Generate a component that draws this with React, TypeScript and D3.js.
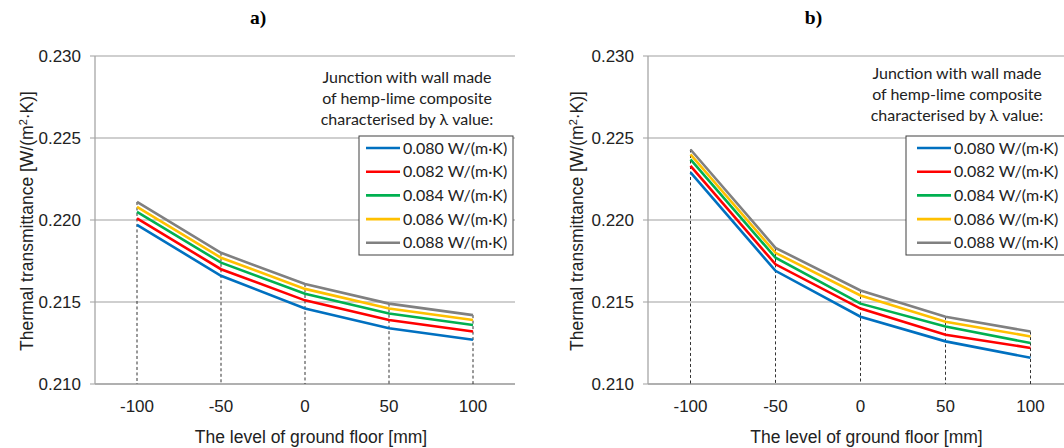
import * as d3 from 'd3'

// ground floor level [mm]
const levels = [-100, -50, 0, 50, 100]
const yTicks = [0.21, 0.215, 0.22, 0.225, 0.23]
const lambdas = ['0.080', '0.082', '0.084', '0.086', '0.088']
const colors = ['#0070C0', '#FF0000', '#00B050', '#FFC000', '#808080']

// panel a) thermal transmittance [W/(m2K)]
const a080 = [0.2197, 0.2166, 0.2146, 0.2134, 0.2127]
const a082 = [0.2201, 0.2170, 0.2151, 0.2139, 0.2132]
const a084 = [0.2205, 0.2174, 0.2155, 0.2143, 0.2136]
const a086 = [0.2208, 0.2177, 0.2158, 0.2146, 0.2139]
const a088 = [0.2211, 0.2180, 0.2161, 0.2149, 0.2142]

// panel b)
const b080 = [0.2229, 0.2169, 0.2141, 0.2126, 0.2116]
const b082 = [0.2233, 0.2173, 0.2146, 0.2130, 0.2122]
const b084 = [0.2237, 0.2177, 0.2149, 0.2135, 0.2125]
const b086 = [0.2240, 0.2180, 0.2154, 0.2138, 0.2129]
const b088 = [0.2243, 0.2183, 0.2157, 0.2141, 0.2132]

const titleLines = ['Junction with wall made', 'of hemp-lime composite', 'characterised by λ value:']

const axisFont = '"Liberation Sans", Arial, sans-serif'
const legendFont = 'Lato, "Open Sans", sans-serif'

const top = 56
const bottom = 384

function Panel({ label, series, x0, x1, yLabelX, titleCx, titleY, legX, legW, lineX }: any) {
    const x = d3.scalePoint<number>().domain(levels).range([x0, x1]).padding(0.5)
    const y = d3.scaleLinear().domain([0.21, 0.23]).range([bottom, top])
    const line = d3.line<number>().x((_, i) => x(levels[i])!).y(d => y(d))
    const cx = (x0 + x1) / 2

    return (
        <g>
            <text x={cx - 47} y={24} fontFamily='"Liberation Serif", serif' fontWeight="bold" fontSize={19.5}
                textAnchor="middle" fill="#000">{label}</text>

            {/* grid */}
            {yTicks.map(t => (
                <g key={t}>
                    <line x1={x0 - 5} x2={x1} y1={y(t)} y2={y(t)} stroke="#bfbfbf" strokeWidth={1.3} />
                    <text x={x0 - 14} y={y(t) + 6} textAnchor="end" fontFamily={axisFont} fontSize={17}
                        fill="#222">{t.toFixed(3)}</text>
                </g>
            ))}
            <line x1={x0} x2={x0} y1={top} y2={bottom} stroke="#a6a6a6" strokeWidth={1.3} />
            <line x1={x0} x2={x1} y1={bottom} y2={bottom} stroke="#a6a6a6" strokeWidth={1.6} />

            {/* drop lines */}
            {levels.map((lv, i) => (
                <line key={lv} x1={x(lv)} x2={x(lv)} y1={y(d3.max(series, (s: number[]) => s[i])!)} y2={bottom}
                    stroke="#333" strokeWidth={1} strokeDasharray="3,2.5" />
            ))}

            {series.map((s: number[], k: number) => (
                <path key={k} d={line(s)!} fill="none" stroke={colors[k]} strokeWidth={2.6} />
            ))}

            {levels.map(lv => (
                <text key={lv} x={x(lv)} y={412} textAnchor="middle" fontFamily={axisFont} fontSize={17}
                    fill="#222">{lv}</text>
            ))}
            <text x={cx + 6} y={443} textAnchor="middle" fontFamily={axisFont} fontSize={17.5}
                fill="#222">The level of ground floor [mm]</text>
            <text transform={`translate(${yLabelX},221) rotate(-90)`} textAnchor="middle" fontFamily={axisFont}
                fontSize={17.5} fill="#222">
                Thermal transmittance [W/(m<tspan dy={-6} fontSize={11}>2</tspan><tspan dy={6}>·K)]</tspan>
            </text>

            {/* legend */}
            {titleLines.map((t, i) => (
                <text key={t} x={titleCx} y={titleY + i * 21} textAnchor="middle" fontFamily={legendFont}
                    fontSize={16} fill="#222">{t}</text>
            ))}
            <rect x={legX} y={136} width={legW} height={119} fill="#fff" stroke="#404040" strokeWidth={1} />
            {lambdas.map((l, k) => (
                <g key={l}>
                    <line x1={lineX} x2={lineX + 34} y1={148 + k * 23.7} y2={148 + k * 23.7} stroke={colors[k]}
                        strokeWidth={2.6} />
                    <text x={lineX + 37} y={148 + k * 23.7 + 5.5} fontFamily={legendFont} fontSize={16}
                        fill="#222">{l} W/(m·K)</text>
                </g>
            ))}
        </g>
    )
}

export default function App() {
    return (
        <svg width={1064} height={448} style={{ position: 'absolute', left: 0, top: 0, background: '#fff' }}>
            <Panel label="a)" series={[a080, a082, a084, a086, a088]} x0={95} x1={515} yLabelX={33}
                titleCx={407} titleY={83} legX={359} legW={154} lineX={366} />
            <Panel label="b)" series={[b080, b082, b084, b086, b088]} x0={648} x1={1073} yLabelX={583}
                titleCx={957} titleY={79} legX={906} legW={160} lineX={917} />
        </svg>
    )
}
